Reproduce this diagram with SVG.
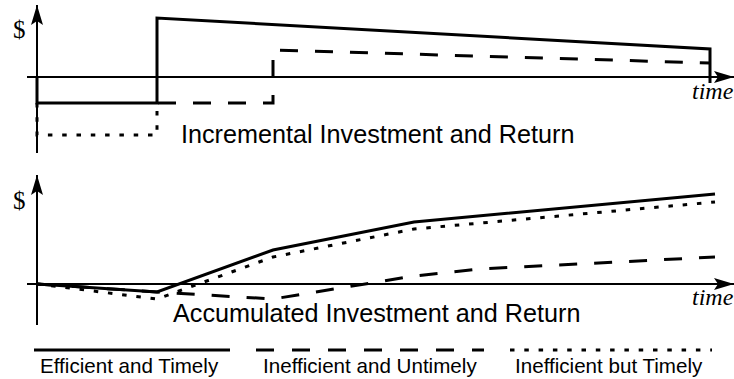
<svg xmlns="http://www.w3.org/2000/svg" width="734" height="379" viewBox="0 0 734 379">
  <defs>
    <marker id="arrow" viewBox="0 0 20 12" refX="20" refY="6" markerWidth="20" markerHeight="12" markerUnits="userSpaceOnUse" orient="auto">
      <path d="M0,0 L20,6 L0,12 L4,6 Z" fill="#000"/>
    </marker>
  </defs>
  <style>
    .axis { stroke: #000; stroke-width: 2; fill: none; marker-end: url(#arrow); }
    .solid { stroke: #000; stroke-width: 3; fill: none; stroke-linejoin: miter; }
    .dashed { stroke: #000; stroke-width: 3; fill: none; stroke-dasharray: 18 17; }
    .dotted { stroke: #000; stroke-width: 3; fill: none; stroke-dasharray: 4.5 9.8; }
    .sans { font-family: "Liberation Sans", Arial, sans-serif; fill: #000; }
    .serif { font-family: "Liberation Serif", "Times New Roman", serif; fill: #000; }
    .title { font-size: 25.2px; }
    .legend { font-size: 20.6px; }
    .dollar { font-size: 25px; }
    .time { font-size: 24px; font-style: italic; }
  </style>
  <rect width="734" height="379" fill="#fff"/>

  <g id="incremental-chart">
    <line class="axis" x1="37" y1="153" x2="37" y2="5"/>
    <line class="axis" x1="27" y1="77" x2="734" y2="77"/>
    <text class="serif dollar" x="13" y="38">$</text>
    <text class="serif time" x="692" y="99">time</text>
    <polyline id="inc-efficient" class="solid" points="37,77 37,103 157,103 157,18 710,49 710,83"/>
    <polyline id="inc-untimely" class="dashed" points="158,103 273,103 273,50 710,63"/>
    <polyline id="inc-timely" class="dotted" points="37,103 37,135 157,135 157,103"/>
    <text class="sans title" x="181" y="143">Incremental Investment and Return</text>
  </g>

  <g id="accumulated-chart">
    <line class="axis" x1="37" y1="325" x2="37" y2="175"/>
    <line class="axis" x1="27" y1="284" x2="734" y2="284"/>
    <text class="serif dollar" x="13" y="209">$</text>
    <text class="serif time" x="692" y="305">time</text>
    <polyline id="acc-untimely" class="dashed" points="37,284 157,292 273,299 414,276 480,269 715,257"/>
    <polyline id="acc-timely" class="dotted" points="37,284 157,299 273,257 414,229 715,202"/>
    <polyline id="acc-efficient" class="solid" points="37,284 157,292 273,250 414,222 715,194"/>
    <text class="sans title" x="173" y="322">Accumulated Investment and Return</text>
  </g>

  <g id="legend">
    <g id="legend-efficient">
      <line class="solid" x1="34" y1="350" x2="230" y2="350"/>
      <text class="sans legend" x="40" y="373">Efficient and Timely</text>
    </g>
    <g id="legend-untimely">
      <line class="dashed" x1="256" y1="350" x2="484" y2="350" style="stroke-dasharray: 18 18"/>
      <text class="sans legend" x="263" y="373">Inefficient and Untimely</text>
    </g>
    <g id="legend-timely">
      <line class="dotted" x1="510" y1="350" x2="712" y2="350"/>
      <text class="sans legend" x="515" y="373">Inefficient but Timely</text>
    </g>
  </g>
</svg>
